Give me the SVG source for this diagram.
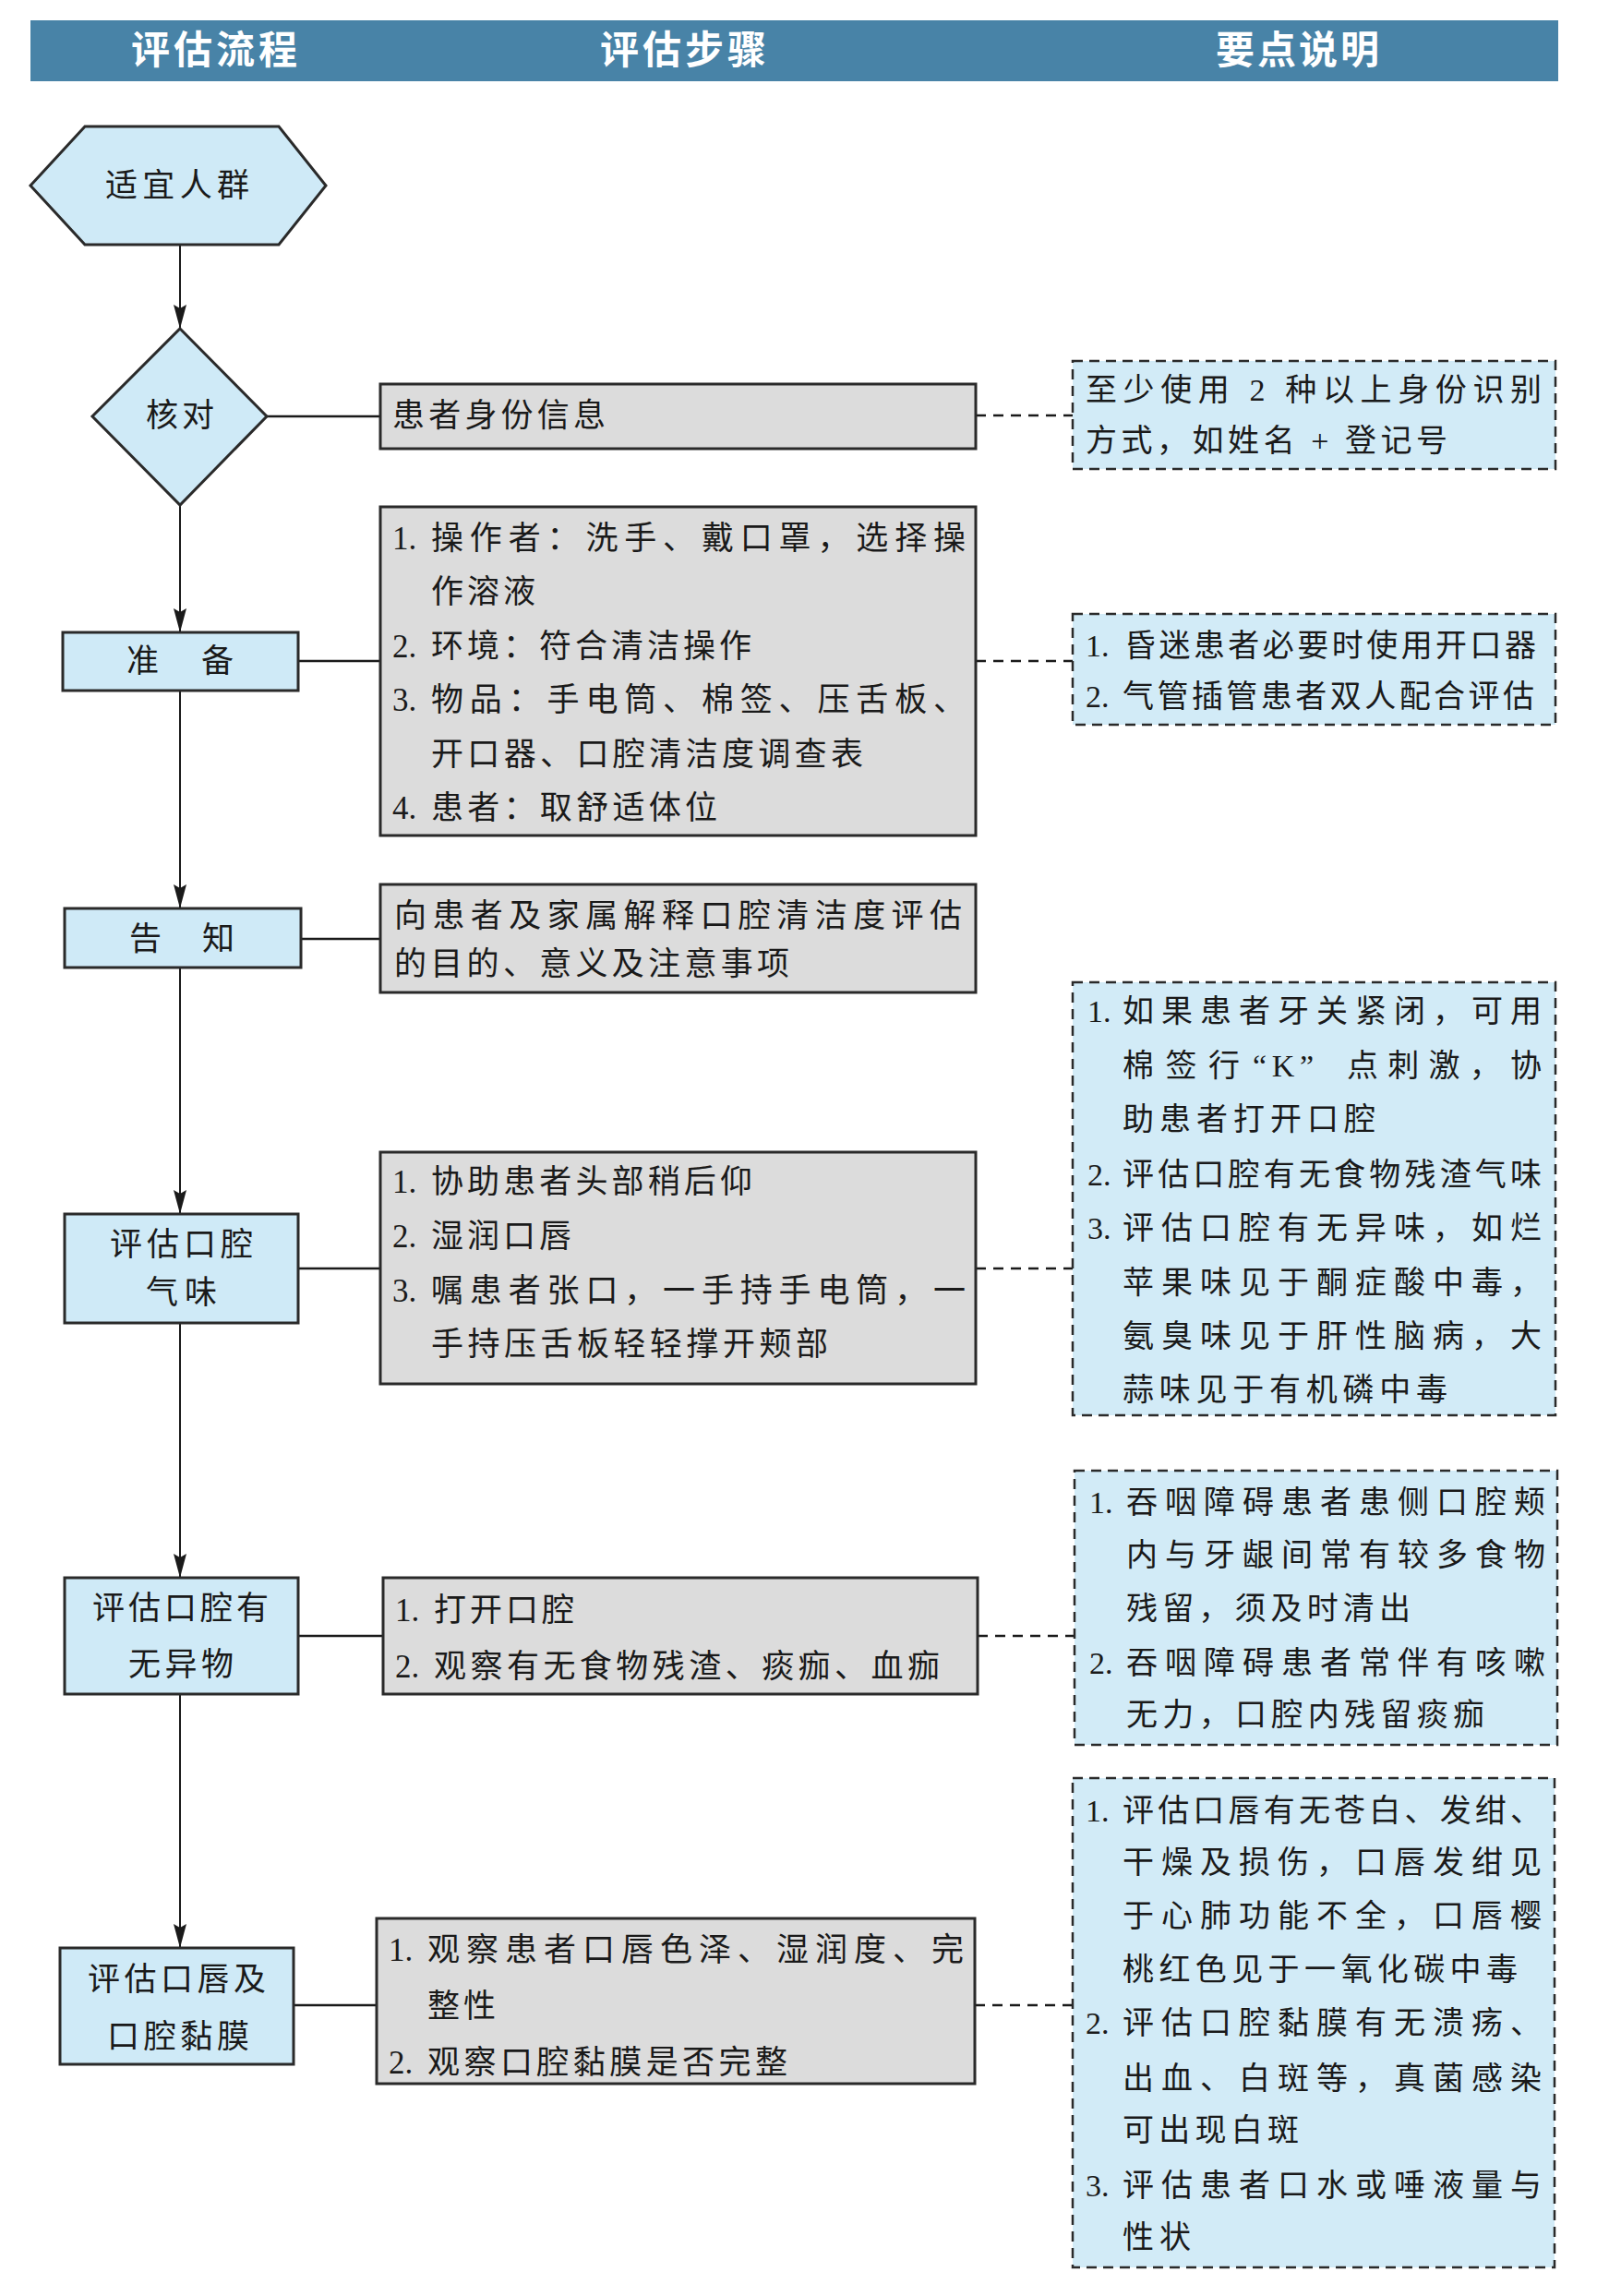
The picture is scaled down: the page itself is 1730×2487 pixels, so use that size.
<svg xmlns="http://www.w3.org/2000/svg" width="1730" height="2487" viewBox="0 0 1730 2487">
<style>
.hdr{fill:#4883a7}
.ht{font-family:"Noto Sans CJK SC",sans-serif;font-size:42px;font-weight:bold;fill:#ffffff}
.flow{fill:#cfeaf7;stroke:#2a2a2a;stroke-width:3}
.step{fill:#dcdcdc;stroke:#2a2a2a;stroke-width:3}
.note{fill:#d2ebf7;stroke:#2a2a2a;stroke-width:2.5;stroke-dasharray:11 7}
.lt{font-family:"Noto Sans CJK SC",sans-serif;font-size:35px;fill:#1a1a1a}
.st{font-family:"Liberation Serif","Noto Sans CJK SC",serif;font-size:35px;fill:#1a1a1a}
.nt{font-family:"Liberation Serif","Noto Sans CJK SC",serif;font-size:34px;fill:#1a1a1a}
.arrow{stroke:#1a1a1a;stroke-width:2;fill:none}
.solid{stroke:#1a1a1a;stroke-width:2.5;fill:none}
.dash{stroke:#1a1a1a;stroke-width:2.5;fill:none;stroke-dasharray:11 8}
</style>
<defs>
<marker id="ah" markerUnits="userSpaceOnUse" markerWidth="28" markerHeight="16" refX="26" refY="7" orient="auto">
<path d="M0,0 L26,7 L0,14 L4,7 z" fill="#1a1a1a"/>
</marker>
</defs>
<rect width="1730" height="2487" fill="#ffffff"/>

<g id="header">
<rect class="hdr" x="33" y="22" width="1655" height="66"/>
<text class="ht" x="142" y="69" textLength="180" lengthAdjust="spacing">评估流程</text>
<text class="ht" x="650" y="69" textLength="180" lengthAdjust="spacing">评估步骤</text>
<text class="ht" x="1317" y="69" textLength="177" lengthAdjust="spacing">要点说明</text>
</g>

<g id="connectors">
<line class="arrow" x1="195" y1="265" x2="195" y2="356" marker-end="url(#ah)"/>
<line class="arrow" x1="195" y1="547" x2="195" y2="685" marker-end="url(#ah)"/>
<line class="arrow" x1="195" y1="748" x2="195" y2="984" marker-end="url(#ah)"/>
<line class="arrow" x1="195" y1="1048" x2="195" y2="1315" marker-end="url(#ah)"/>
<line class="arrow" x1="195" y1="1433" x2="195" y2="1709" marker-end="url(#ah)"/>
<line class="arrow" x1="195" y1="1835" x2="195" y2="2110" marker-end="url(#ah)"/>
<line class="solid" x1="289" y1="451" x2="412" y2="451"/>
<line class="solid" x1="323" y1="716" x2="412" y2="716"/>
<line class="solid" x1="326" y1="1017" x2="412" y2="1017"/>
<line class="solid" x1="323" y1="1374" x2="412" y2="1374"/>
<line class="solid" x1="323" y1="1772" x2="415" y2="1772"/>
<line class="solid" x1="318" y1="2172" x2="408" y2="2172"/>
<line class="dash" x1="1057" y1="450" x2="1162" y2="450"/>
<line class="dash" x1="1057" y1="716" x2="1162" y2="716"/>
<line class="dash" x1="1057" y1="1374" x2="1162" y2="1374"/>
<line class="dash" x1="1059" y1="1772" x2="1164" y2="1772"/>
<line class="dash" x1="1056" y1="2172" x2="1162" y2="2172"/>
</g>

<g id="n-start">
<polygon class="flow" points="92,137 302,137 353,201 302,265 92,265 33,201"/>
<text class="lt" x="114" y="213" textLength="156" lengthAdjust="spacing">适宜人群</text>
</g>

<g id="n-check">
<polygon class="flow" points="195,356 289,451 195,547 100,451"/>
<text class="lt" x="158" y="462" textLength="74" lengthAdjust="spacing">核对</text>
</g>

<g id="n-prepare">
<rect class="flow" x="68" y="685" width="255" height="63"/>
<text class="lt" x="137" y="728" textLength="116" lengthAdjust="spacing">准　备</text>
</g>

<g id="n-inform">
<rect class="flow" x="70" y="984" width="256" height="64"/>
<text class="lt" x="140" y="1029" textLength="114" lengthAdjust="spacing">告　知</text>
</g>

<g id="n-odor">
<rect class="flow" x="70" y="1315" width="253" height="118"/>
<text class="lt" x="119" y="1360" textLength="155" lengthAdjust="spacing">评估口腔</text>
<text class="lt" x="158" y="1412" textLength="77" lengthAdjust="spacing">气味</text>
</g>

<g id="n-foreign">
<rect class="flow" x="70" y="1709" width="253" height="126"/>
<text class="lt" x="100" y="1754" textLength="191" lengthAdjust="spacing">评估口腔有</text>
<text class="lt" x="139" y="1815" textLength="114" lengthAdjust="spacing">无异物</text>
</g>

<g id="n-lips">
<rect class="flow" x="65" y="2110" width="253" height="126"/>
<text class="lt" x="95" y="2156" textLength="193" lengthAdjust="spacing">评估口唇及</text>
<text class="lt" x="116" y="2218" textLength="154" lengthAdjust="spacing">口腔黏膜</text>
</g>

<g id="s-identity">
<rect class="step" x="412" y="416" width="645" height="70"/>
<text class="st" x="425" y="462" textLength="231" lengthAdjust="spacing">患者身份信息</text>
</g>

<g id="s-prepare">
<rect class="step" x="412" y="549" width="645" height="356"/>
<text class="st" x="425" y="595">1.</text>
<text class="st" x="467" y="595" textLength="579" lengthAdjust="spacing">操作者：洗手、戴口罩，选择操</text>
<text class="st" x="467" y="653" textLength="113" lengthAdjust="spacing">作溶液</text>
<text class="st" x="425" y="712">2.</text>
<text class="st" x="467" y="712" textLength="347" lengthAdjust="spacing">环境：符合清洁操作</text>
<text class="st" x="425" y="770">3.</text>
<text class="st" x="467" y="770" textLength="579" lengthAdjust="spacing">物品：手电筒、棉签、压舌板、</text>
<text class="st" x="467" y="829" textLength="468" lengthAdjust="spacing">开口器、口腔清洁度调查表</text>
<text class="st" x="425" y="887">4.</text>
<text class="st" x="467" y="887" textLength="310" lengthAdjust="spacing">患者：取舒适体位</text>
</g>

<g id="s-inform">
<rect class="step" x="412" y="958" width="645" height="117"/>
<text class="st" x="427" y="1004" textLength="615" lengthAdjust="spacing">向患者及家属解释口腔清洁度评估</text>
<text class="st" x="427" y="1056" textLength="428" lengthAdjust="spacing">的目的、意义及注意事项</text>
</g>

<g id="s-odor">
<rect class="step" x="412" y="1248" width="645" height="251"/>
<text class="st" x="425" y="1292">1.</text>
<text class="st" x="467" y="1292" textLength="348" lengthAdjust="spacing">协助患者头部稍后仰</text>
<text class="st" x="425" y="1351">2.</text>
<text class="st" x="467" y="1351" textLength="152" lengthAdjust="spacing">湿润口唇</text>
<text class="st" x="425" y="1410">3.</text>
<text class="st" x="467" y="1410" textLength="579" lengthAdjust="spacing">嘱患者张口，一手持手电筒，一</text>
<text class="st" x="467" y="1468" textLength="430" lengthAdjust="spacing">手持压舌板轻轻撑开颊部</text>
</g>

<g id="s-foreign">
<rect class="step" x="415" y="1709" width="644" height="126"/>
<text class="st" x="428" y="1756">1.</text>
<text class="st" x="470" y="1756" textLength="152" lengthAdjust="spacing">打开口腔</text>
<text class="st" x="428" y="1817">2.</text>
<text class="st" x="470" y="1817" textLength="548" lengthAdjust="spacing">观察有无食物残渣、痰痂、血痂</text>
</g>

<g id="s-lips">
<rect class="step" x="408" y="2078" width="648" height="179"/>
<text class="st" x="421" y="2124">1.</text>
<text class="st" x="463" y="2124" textLength="581" lengthAdjust="spacing">观察患者口唇色泽、湿润度、完</text>
<text class="st" x="463" y="2185" textLength="74" lengthAdjust="spacing">整性</text>
<text class="st" x="421" y="2246">2.</text>
<text class="st" x="463" y="2246" textLength="390" lengthAdjust="spacing">观察口腔黏膜是否完整</text>
</g>

<g id="k-identity">
<rect class="note" x="1162" y="391" width="523" height="117"/>
<text class="nt" x="1176" y="434" textLength="494" lengthAdjust="spacing">至少使用 2 种以上身份识别</text>
<text class="nt" x="1176" y="489" textLength="392" lengthAdjust="spacing">方式，如姓名 + 登记号</text>
</g>

<g id="k-prepare">
<rect class="note" x="1162" y="665" width="523" height="120"/>
<text class="nt" x="1176" y="711">1.</text>
<text class="nt" x="1218" y="711" textLength="446" lengthAdjust="spacing">昏迷患者必要时使用开口器</text>
<text class="nt" x="1176" y="766">2.</text>
<text class="nt" x="1216" y="766" textLength="446" lengthAdjust="spacing">气管插管患者双人配合评估</text>
</g>

<g id="k-odor">
<rect class="note" x="1162" y="1064" width="523" height="469"/>
<text class="nt" x="1178" y="1107">1.</text>
<text class="nt" x="1216" y="1107" textLength="454" lengthAdjust="spacing">如果患者牙关紧闭，可用</text>
<text class="nt" x="1216" y="1166" textLength="127" lengthAdjust="spacing">棉签行</text>
<text class="nt" x="1357" y="1166" textLength="66" lengthAdjust="spacing">“K”</text>
<text class="nt" x="1459" y="1166" textLength="211" lengthAdjust="spacing">点刺激，协</text>
<text class="nt" x="1216" y="1224" textLength="274" lengthAdjust="spacing">助患者打开口腔</text>
<text class="nt" x="1178" y="1284">2.</text>
<text class="nt" x="1216" y="1284" textLength="454" lengthAdjust="spacing">评估口腔有无食物残渣气味</text>
<text class="nt" x="1178" y="1342">3.</text>
<text class="nt" x="1216" y="1342" textLength="454" lengthAdjust="spacing">评估口腔有无异味，如烂</text>
<text class="nt" x="1216" y="1401" textLength="454" lengthAdjust="spacing">苹果味见于酮症酸中毒，</text>
<text class="nt" x="1216" y="1459" textLength="454" lengthAdjust="spacing">氨臭味见于肝性脑病，大</text>
<text class="nt" x="1216" y="1517" textLength="352" lengthAdjust="spacing">蒜味见于有机磷中毒</text>
</g>

<g id="k-foreign">
<rect class="note" x="1164" y="1593" width="523" height="297"/>
<text class="nt" x="1180" y="1639">1.</text>
<text class="nt" x="1220" y="1639" textLength="454" lengthAdjust="spacing">吞咽障碍患者患侧口腔颊</text>
<text class="nt" x="1220" y="1696" textLength="454" lengthAdjust="spacing">内与牙龈间常有较多食物</text>
<text class="nt" x="1220" y="1754" textLength="308" lengthAdjust="spacing">残留，须及时清出</text>
<text class="nt" x="1180" y="1813">2.</text>
<text class="nt" x="1220" y="1813" textLength="454" lengthAdjust="spacing">吞咽障碍患者常伴有咳嗽</text>
<text class="nt" x="1220" y="1869" textLength="388" lengthAdjust="spacing">无力，口腔内残留痰痂</text>
</g>

<g id="k-lips">
<rect class="note" x="1162" y="1926" width="522" height="530"/>
<text class="nt" x="1176" y="1973">1.</text>
<text class="nt" x="1216" y="1973" textLength="454" lengthAdjust="spacing">评估口唇有无苍白、发绀、</text>
<text class="nt" x="1216" y="2029" textLength="454" lengthAdjust="spacing">干燥及损伤，口唇发绀见</text>
<text class="nt" x="1216" y="2087" textLength="454" lengthAdjust="spacing">于心肺功能不全，口唇樱</text>
<text class="nt" x="1216" y="2145" textLength="428" lengthAdjust="spacing">桃红色见于一氧化碳中毒</text>
<text class="nt" x="1176" y="2203">2.</text>
<text class="nt" x="1216" y="2203" textLength="454" lengthAdjust="spacing">评估口腔黏膜有无溃疡、</text>
<text class="nt" x="1216" y="2263" textLength="454" lengthAdjust="spacing">出血、白斑等，真菌感染</text>
<text class="nt" x="1216" y="2319" textLength="191" lengthAdjust="spacing">可出现白斑</text>
<text class="nt" x="1176" y="2379">3.</text>
<text class="nt" x="1216" y="2379" textLength="454" lengthAdjust="spacing">评估患者口水或唾液量与</text>
<text class="nt" x="1216" y="2435" textLength="74" lengthAdjust="spacing">性状</text>
</g>
</svg>
